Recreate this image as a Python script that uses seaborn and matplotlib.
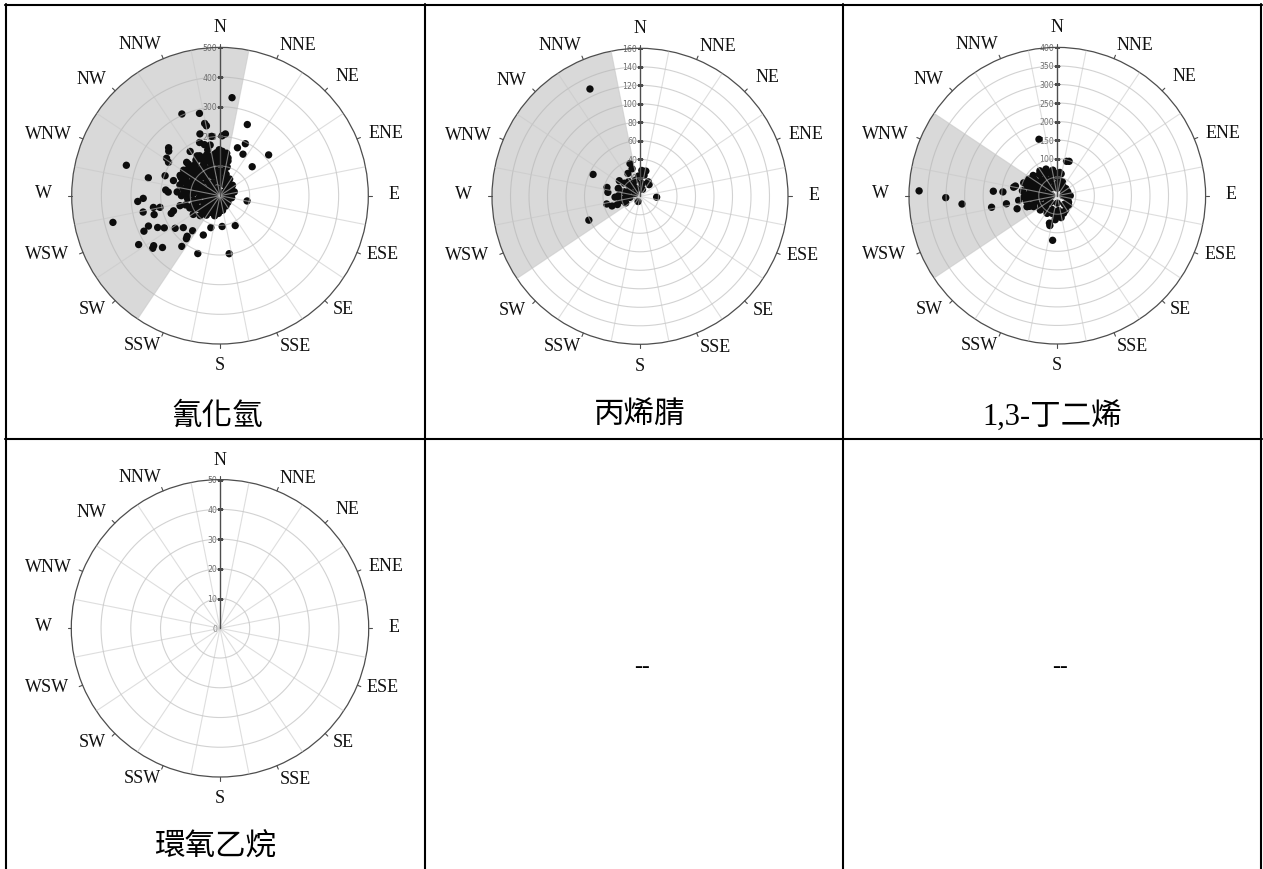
import numpy as np
import pandas as pd
import matplotlib
matplotlib.use("Agg")
import matplotlib.pyplot as plt
from matplotlib.lines import Line2D
from matplotlib import transforms
import seaborn as sns

W, H = 1263, 870

compass_labels = ["N", "NNE", "NE", "ENE", "E", "ESE", "SE", "SSE",
                  "S", "SSW", "SW", "WSW", "W", "WNW", "NW", "NNW"]
compass_deg = [0, 22.5, 45, 67.5, 90, 112.5, 135, 157.5,
               180, 202.5, 225, 247.5, 270, 292.5, 315, 337.5]
# pixel offsets of each compass label from the dial centre
label_offsets = [(0, -169), (78, -151), (127, -120), (166, -63), (174, -2),
                 (163, 58), (123, 113), (75, 150), (0, 169), (-78, 149),
                 (-128, 113), (-173, 58), (-177, -3), (-172, -62),
                 (-129, -117), (-80, -152)]

# 氰化氫 : wind direction (deg) and concentration
hcn_dir = [7, 335, 346, 348, 349, 21, 342, 352, 2, 5, 26, 20, 29, 50, 48, 288,
           313, 311, 305, 303, 284, 326, 339, 343, 349, 256, 266, 268, 239, 232,
           233, 228, 245, 247, 258, 254, 260, 259, 243, 240, 234, 229, 217, 218,
           219, 218, 201, 203, 196, 176, 153, 171, 101, 252, 250, 256, 274, 276,
           290, 297, 288, 313, 320, 333, 342, 315,
           0, 5, 355, 2, 8, 352, 358, 4, 10, 356, 0, 6, 350, 12, 14,
           20, 25, 30, 35, 40, 45, 50, 55, 60, 18,
           70, 80, 90, 100, 110, 120, 75,
           130, 140, 150, 160, 170, 175,
           180, 185, 190, 195, 200, 205, 210,
           215, 220, 225, 230, 235, 240, 245, 250, 255, 260, 265, 255, 240, 225,
           270, 272, 275, 278, 280, 283, 285, 288, 290, 292, 295, 298, 300, 302,
           305, 308, 310, 312, 315, 318, 320, 322, 325, 328, 330, 332, 335, 338,
           340, 342, 345, 348, 268, 262, 282, 300, 320, 340, 315, 305, 295, 285,
           275, 330, 345, 265, 258,
           0, 90, 180, 270, 45, 135, 225, 315,
           273, 277, 281, 286, 289, 293, 296, 299, 303, 306, 309, 313, 316, 319,
           323, 326, 329, 333, 336, 339, 343, 346, 349, 351, 354, 357, 359, 3,
           6, 9, 11, 13, 16, 253, 248, 243, 238, 233, 228, 222]
hcn_conc = [333, 304, 286, 249, 240, 257, 219, 202, 202, 209, 195, 172, 160, 214,
            146, 332, 237, 229, 220, 207, 249, 180, 192, 180, 174, 372, 278, 259,
            320, 288, 280, 261, 283, 262, 265, 231, 228, 206, 236, 217, 187, 164,
            214, 184, 176, 150, 209, 144, 112, 104, 113, 198, 93, 165, 175, 139,
            175, 184, 197, 151, 165, 139, 132, 151, 142, 159,
            150, 140, 145, 120, 110, 125, 100, 90, 80, 75, 60, 45, 50, 130, 100,
            60, 45, 65, 40, 50, 30, 55, 35, 45, 40,
            30, 40, 25, 40, 30, 20, 50,
            35, 25, 40, 30, 50, 20,
            40, 60, 30, 70, 50, 35, 65,
            80, 55, 95, 70, 110, 85, 60, 100, 120, 90, 70, 45, 40, 30,
            130, 110, 90, 60, 125, 100, 40, 80, 135, 115, 60, 95, 130, 75,
            110, 45, 140, 90, 120, 65, 100, 135, 80, 115, 50, 140, 100, 125,
            70, 145, 110, 85, 50, 30, 25, 20, 30, 25, 150, 150, 145, 140,
            145, 155, 160, 110, 75,
            10, 10, 10, 10, 15, 15, 15, 15,
            100, 120, 75, 115, 95, 125, 85, 105, 140, 90, 125, 100, 135, 85,
            110, 145, 95, 120, 85, 140, 95, 130, 115, 140, 120, 135, 155, 150,
            130, 145, 95, 120, 75, 85, 110, 95, 80, 60, 75, 45]

# 丙烯腈
acn_dir = [335, 295, 245, 257, 251, 285, 277, 343, 344, 332, 307, 310, 322, 345,
           4, 13, 11, 356, 30, 38, 9, 93, 286, 298, 272, 264, 257, 245, 262, 264,
           280, 301, 337, 328, 268, 290, 250, 315, 20, 200]
acn_conc = [128, 56, 61, 37, 32, 37, 35, 37, 31, 28, 28, 22, 20, 18,
            28, 28, 23, 22, 18, 16, 14, 18, 18, 13, 23, 22, 20, 17, 16, 11,
            15, 6, 9, 14, 27, 25, 26, 17, 8, 6]

# 1,3-丁二烯
bd_dir = [272, 269, 265, 260, 274, 274, 261, 252, 263, 281, 283, 291, 300, 342,
          15, 19, 186, 196, 194, 249, 250, 325, 337, 6,
          250, 255, 260, 262, 265, 268, 270, 272, 275, 278, 280, 282, 285, 288,
          290, 292, 295, 298, 300, 305, 308, 310, 315, 318, 320, 325, 330, 335,
          340, 345, 350, 355, 0, 5, 10, 15, 20, 30, 40, 50, 60, 70, 80, 90, 100,
          110, 120, 130, 140, 150, 160, 170, 175, 180, 185, 190, 195, 200, 210,
          220, 230, 240, 245, 235, 225, 270, 290, 310, 330, 350, 255, 0, 90,
          180, 270]
bd_conc = [373, 301, 258, 180, 173, 147, 139, 114, 105, 120, 116, 97, 89, 160,
           96, 98, 121, 77, 83, 80, 87, 82, 78, 63,
           75, 60, 85, 45, 70, 90, 55, 80, 65, 95, 40, 75, 60, 85,
           50, 70, 80, 45, 65, 75, 55, 85, 60, 40, 75, 55, 70, 45,
           65, 50, 70, 60, 55, 45, 60, 35, 40, 30, 25, 30, 20, 30, 25, 35, 25,
           30, 35, 40, 30, 45, 50, 60, 40, 55, 65, 45, 50, 40, 55,
           45, 60, 50, 70, 35, 25, 30, 25, 30, 25, 30, 30, 20, 15,
           20, 15]

# 環氧乙烷 : no detections
eo_dir = []
eo_conc = []

panels = [
    dict(caption="氰化氫", dirs=hcn_dir, conc=hcn_conc, center=(220, 196.7),
         radius=148.3, rmax=500, rings=[100, 200, 300, 400, 500],
         shade=(213.75, 371.25), cap_xy=(217, 417)),
    dict(caption="丙烯腈", dirs=acn_dir, conc=acn_conc, center=(640, 197.3),
         radius=148.0, rmax=160, rings=[20, 40, 60, 80, 100, 120, 140, 160],
         shade=(236.25, 348.75), cap_xy=(640, 416)),
    dict(caption="1,3-丁二烯", dirs=bd_dir, conc=bd_conc, center=(1057.3, 196.7),
         radius=148.3, rmax=400, rings=[50, 100, 150, 200, 250, 300, 350, 400],
         shade=(236.25, 303.75), cap_xy=(1052, 416)),
    dict(caption="環氧乙烷", dirs=eo_dir, conc=eo_conc, center=(220, 629.3),
         radius=148.7, rmax=50, rings=[10, 20, 30, 40, 50],
         shade=None, cap_xy=(215, 848)),
]

sns.set_style("white")
plt.rcParams["font.family"] = ["Liberation Serif", "Noto Sans CJK TC"]

fig = plt.figure(figsize=(W / 100, H / 100), dpi=100)
fig.patch.set_facecolor("white")

SPOKE_C = "#c8c8c8"
RING_C = "#b4b4b4"
GRID_ALPHA = 0.6
AXIS_C = "#4d4d4d"

for p in panels:
    cx, cy = p["center"]
    R = p["radius"]
    rmax = p["rmax"]
    ax = fig.add_axes([(cx - R) / W, 1 - (cy + R) / H, 2 * R / W, 2 * R / H],
                      projection="polar")
    ax.set_theta_zero_location("N")
    ax.set_theta_direction(-1)
    ax.grid(False)
    ax.set_facecolor("white")

    # shaded sector
    if p["shade"] is not None:
        a0, a1 = p["shade"]
        ax.bar(np.deg2rad((a0 + a1) / 2), rmax, width=np.deg2rad(a1 - a0),
               bottom=0, color="#d9d9d9", edgecolor="none", zorder=0.5)

    # radial tick labels along the north axis
    off = transforms.offset_copy(ax.transData, fig=fig, x=-3, y=0, units="dots")
    for v in [0] + p["rings"]:
        ax.text(0, v, f"{v}", transform=off, ha="right", va="center",
                fontsize=5.6, color="#6a6a6a", family="DejaVu Sans", zorder=1)

    # data points
    if len(p["dirs"]):
        df = pd.DataFrame({"theta": np.deg2rad(p["dirs"]), "conc": p["conc"]})
        sns.scatterplot(data=df, x="theta", y="conc", ax=ax, color="#0d0d0d",
                        s=28, edgecolor="none", linewidth=0, zorder=2,
                        legend=False)

    # grid: rings and offset spokes drawn over the points
    th = np.linspace(0, 2 * np.pi, 400)
    for v in p["rings"][:-1]:
        ax.plot(th, np.full_like(th, v), color=RING_C, lw=0.8,
                alpha=GRID_ALPHA, zorder=3)
    for d in compass_deg:
        t = np.deg2rad(d + 11.25)
        ax.plot([t, t], [0, rmax], color=SPOKE_C, lw=0.8,
                alpha=GRID_ALPHA, zorder=3)

    # radial axis on north with ticks
    ax.plot([0, 0], [0, rmax], color=AXIS_C, lw=1.0, zorder=3.5)
    ax.plot([0] * len(p["rings"]), p["rings"], ls="none", marker="_",
            ms=5, mew=0.8, color=AXIS_C, zorder=3.5)

    # outer ticks
    for d in compass_deg:
        t = np.deg2rad(d)
        ax.plot([t, t], [rmax, rmax * 1.025], color=AXIS_C, lw=0.8,
                clip_on=False, zorder=3.5)

    ax.set_ylim(0, rmax)
    ax.set_xticks([])
    ax.set_yticks([])
    ax.set_xlabel("")
    ax.set_ylabel("")
    ax.spines["polar"].set_color(AXIS_C)
    ax.spines["polar"].set_linewidth(0.9)

    # compass labels
    for lab, (dx, dy) in zip(compass_labels, label_offsets):
        fig.text((cx + dx) / W, 1 - (cy + dy) / H, lab, ha="center",
                 va="center", fontsize=13, family="Liberation Serif",
                 color="#111111")

    x, y = p["cap_xy"]
    fig.text(x / W, 1 - y / H, p["caption"], ha="center", va="center",
             fontsize=22, color="black")

# empty cells
for x, y in [(642, 667), (1060, 667)]:
    fig.text(x / W, 1 - y / H, "--", ha="center", va="center", fontsize=17,
             color="black")

# table rules
def rule(x0, y0, x1, y1):
    fig.add_artist(Line2D([x0 / W, x1 / W], [1 - y0 / H, 1 - y1 / H],
                          transform=fig.transFigure, color="black", lw=1.5))

rule(5, 5.5, 1262, 5.5)
rule(5, 440, 1262, 440)
for x in [6, 424.5, 843, 1261]:
    rule(x, 4.8, x, 870)

fig.savefig("out.png", dpi=100, facecolor="white")
